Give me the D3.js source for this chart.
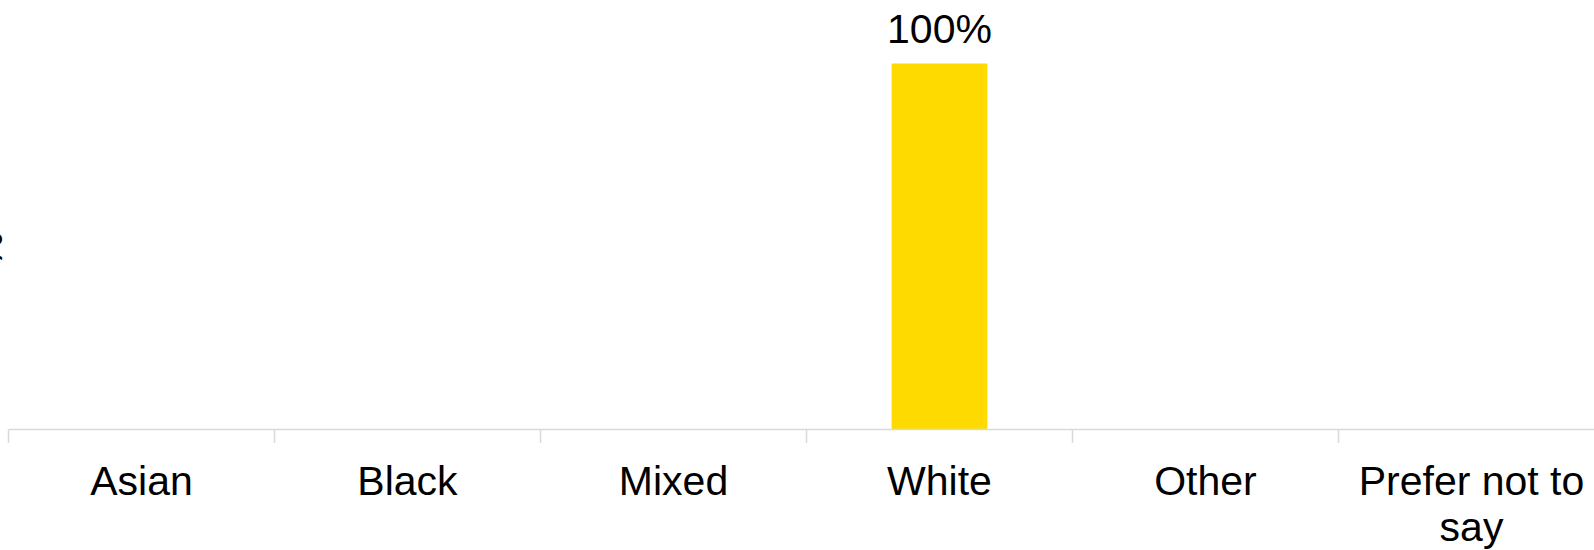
<!DOCTYPE html>
<html>
<head>
<meta charset="utf-8">
<script src="https://cdn.jsdelivr.net/npm/d3@7"></script>
<style>
  html, body { margin: 0; padding: 0; background: #ffffff; }
  svg { display: block; }
  text { font-family: "Liberation Sans", Arial, sans-serif; fill: #000000; }
</style>
</head>
<body>
<svg id="chart" width="1594" height="550"></svg>
<script>
// Share of respondents by ethnic group
const categories = ["Asian", "Black", "Mixed", "White", "Other", "Prefer not to say"];
const percentages = [0, 0, 0, 100, 0, 0];
const axisTitle = "%";

const W = 1594, H = 550;
const svg = d3.select("#chart");

const plot = { left: 8.5, right: 1604.5, top: 63.5, bottom: 429.5 };
const fontSize = 41;

const x = d3.scaleBand()
  .domain(categories)
  .range([plot.left, plot.right])
  .paddingInner(0.64)
  .paddingOuter(0.32);

const y = d3.scaleLinear()
  .domain([0, 100])
  .range([plot.bottom, plot.top]);

// Bars
svg.append("g")
  .selectAll("rect")
  .data(categories.map((c, i) => ({ c, v: percentages[i] })))
  .join("rect")
  .attr("x", d => x(d.c))
  .attr("width", x.bandwidth())
  .attr("y", d => y(d.v))
  .attr("height", d => y(0) - y(d.v))
  .attr("fill", "#FFDA00");

// Value labels (only non-zero values are labelled)
svg.append("g")
  .selectAll("text")
  .data(categories.map((c, i) => ({ c, v: percentages[i] })).filter(d => d.v > 0))
  .join("text")
  .attr("x", d => x(d.c) + x.bandwidth() / 2)
  .attr("y", d => y(d.v) - 20.5)
  .attr("text-anchor", "middle")
  .style("font-size", fontSize + "px")
  .text(d => d.v + "%");

// Category axis: baseline and separators between categories
const axis = svg.append("g");
const step = x.step();
const x0 = x(categories[0]) - x.paddingOuter() * step;
axis.append("line")
  .attr("x1", x0).attr("x2", x0 + step * categories.length)
  .attr("y1", y(0)).attr("y2", y(0))
  .attr("stroke", "#d9d9d9").attr("stroke-width", 1.5);
axis.selectAll("line.tick")
  .data(d3.range(categories.length + 1))
  .join("line")
  .attr("class", "tick")
  .attr("x1", i => x0 + i * step).attr("x2", i => x0 + i * step)
  .attr("y1", y(0)).attr("y2", y(0) + 13.5)
  .attr("stroke", "#d9d9d9").attr("stroke-width", 1.5);

// Category labels, wrapped to fit each band
const lineHeight = 46;
const maxLabelWidth = step - 16;
const labels = axis.selectAll("text.cat")
  .data(categories)
  .join("text")
  .attr("class", "cat")
  .attr("text-anchor", "middle")
  .style("font-size", fontSize + "px")
  .attr("x", d => x(d) + x.bandwidth() / 2)
  .attr("y", 495);

labels.each(function (d) {
  const el = d3.select(this);
  const cx = +el.attr("x");
  const words = d.split(" ");
  let line = [];
  let tspan = el.append("tspan").attr("x", cx).attr("dy", 0);
  words.forEach(w => {
    line.push(w);
    tspan.text(line.join(" "));
    if (tspan.node().getComputedTextLength() > maxLabelWidth && line.length > 1) {
      line.pop();
      tspan.text(line.join(" "));
      line = [w];
      tspan = el.append("tspan").attr("x", cx).attr("dy", lineHeight).text(w);
    }
  });
});

// Value axis title, sitting at the left edge of the chart area
svg.append("text")
  .attr("transform", `translate(1.5,${(plot.top + plot.bottom) / 2 + 3}) rotate(-90)`)
  .attr("text-anchor", "middle")
  .style("font-size", fontSize + "px")
  .text(axisTitle);
</script>
</body>
</html>
